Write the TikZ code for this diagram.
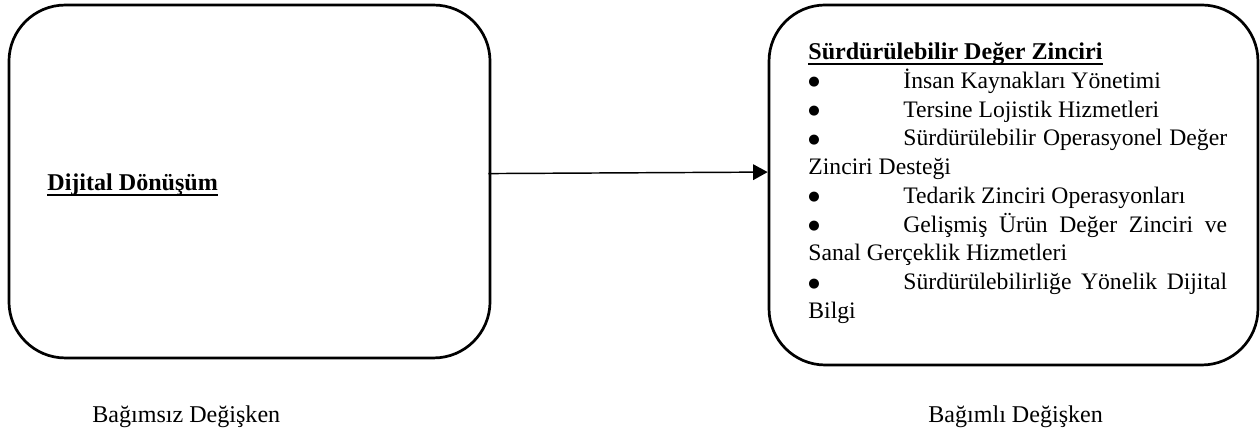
\documentclass[tikz,border=0pt]{standalone}
\usepackage{fontspec}
\setmainfont{Liberation Serif}
\newfontfamily\simge{DejaVu Sans}
\usetikzlibrary{arrows.meta}
\newcommand{\altcizgi}[1]{\setbox0\hbox{#1}\rlap{\rule[-2.4pt]{\wd0}{0.8pt}}\box0}
\newcommand{\madde}{\makebox[45.6pt][l]{\raisebox{1.2pt}{\simge\fontsize{6.3}{0}\selectfont ●}}}

\begin{document}
\begin{tikzpicture}[x=0.48pt, y=-0.48pt, font=\fontsize{11.55}{13.8}\selectfont,
	main/.style = {draw, line width=1.3pt, rounded corners=27pt},
	txt/.style = {inner sep=0pt, anchor=base west}]
	\tikzset{edge/.style = {-{Triangle[length=7pt, width=7.5pt]}, line width=0.7pt}}
	\useasboundingbox (0,0) rectangle (1260,437);

		\node[main, minimum width=230.9pt, minimum height=169.4pt] (1) at (249.5,181.5) {};
		\node[main, minimum width=234.7pt, minimum height=172.8pt] (2) at (1013.5,185) {};
		\node[txt] (3) at (47,191) {\altcizgi{\textbf{Dijital Dönüşüm}}};
		\node[txt, anchor=north west, text width=201pt, align=justify, font=\fontsize{11.35}{13.8}\selectfont] (4) at (808,39) {%
			\parindent=0pt \parskip=0pt \hyphenpenalty=10000 \exhyphenpenalty=10000 \tolerance=9999
			\strut\altcizgi{\textbf{\fontsize{11.55}{13.8}\selectfont Sürdürülebilir Değer Zinciri}}\par
			\madde İnsan Kaynakları Yönetimi\par
			\madde Tersine Lojistik Hizmetleri\par
			\madde Sürdürülebilir Operasyonel Değer\linebreak Zinciri Desteği\par
			\madde Tedarik Zinciri Operasyonları\par
			\madde Gelişmiş Ürün Değer Zinciri ve\linebreak Sanal Gerçeklik Hizmetleri\par
			\madde Sürdürülebilirliğe Yönelik Dijital\linebreak Bilgi\par};
		\node[txt] (5) at (92,423) {Bağımsız Değişken};
		\node[txt] (6) at (928,423) {Bağımlı Değişken};

		\draw[edge] ([xshift=-1.4pt, yshift=3.8pt]1.east) -- ([yshift=6.2pt]2.west);
	\end{tikzpicture}
\end{document}
